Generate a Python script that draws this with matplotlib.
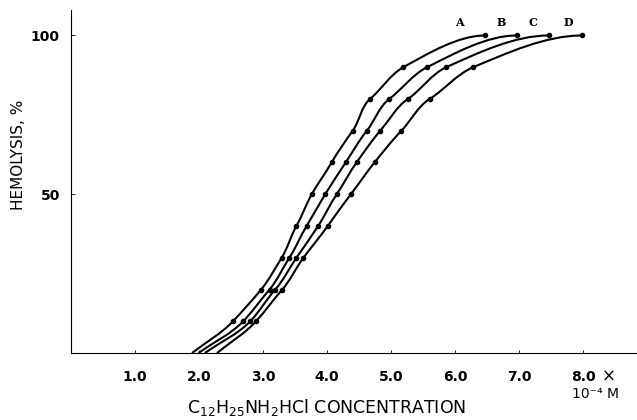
import matplotlib
matplotlib.use("Agg")
import matplotlib.pyplot as plt
from matplotlib.path import Path
from matplotlib.patches import PathPatch
import numpy as np

plt.rcParams["mathtext.default"] = "regular"

# hemolysis (%) vs concentration (x 10^-4 M), curves A-D
hemolysis = [0, 10, 20, 30, 40, 50, 60, 70, 80, 90, 100]
conc_A = [1.89, 2.53, 2.97, 3.29, 3.52, 3.76, 4.07, 4.40, 4.67, 5.19, 6.47]
conc_B = [1.99, 2.69, 3.10, 3.41, 3.68, 3.97, 4.29, 4.62, 4.97, 5.56, 6.96]
conc_C = [2.09, 2.80, 3.19, 3.52, 3.86, 4.15, 4.46, 4.83, 5.26, 5.86, 7.46]
conc_D = [2.28, 2.89, 3.30, 3.63, 4.01, 4.37, 4.74, 5.16, 5.60, 6.28, 7.98]
curve_names = ["A", "B", "C", "D"]
xtick_vals = [1.0, 2.0, 3.0, 4.0, 5.0, 6.0, 7.0, 8.0]
ytick_vals = [50, 100]


def smooth_path(xs, ys, sx=64.0, sy=3.16):
    # bezier through the measured points, chord-length parameterised,
    # tangents from a wide stencil so the line stays smooth, flat at 100 %
    p = np.column_stack([xs, ys]).astype(float)
    n = len(p)
    d = np.hypot(np.diff(p[:, 0]) * sx, np.diff(p[:, 1]) * sy)
    t = np.concatenate([[0], np.cumsum(d)])
    m = np.zeros_like(p)
    m[0] = (p[1] - p[0]) / (t[1] - t[0])
    for i in range(1, n - 1):
        lo, hi = max(i - 2, 0), min(i + 2, n - 1)
        if i == n - 2:
            lo = i - 1
            hi = i + 1
        m[i] = (p[hi] - p[lo]) / (t[hi] - t[lo])
    m[-1] = [(p[-1, 0] - p[-2, 0]) / (t[-1] - t[-2]), 0.0]
    verts = [p[0]]
    codes = [Path.MOVETO]
    for i in range(n - 1):
        h = t[i + 1] - t[i]
        verts += [p[i] + m[i] * h / 3, p[i + 1] - m[i + 1] * h / 3, p[i + 1]]
        codes += [Path.CURVE4] * 3
    return Path(verts, codes)


fig = plt.figure(figsize=(6.37, 4.2), dpi=100)
ax = fig.add_axes([0.1115, 0.1595, 0.8885, 0.8165])

all_curves = [conc_A, conc_B, conc_C, conc_D]
for xs in all_curves:
    ax.add_patch(PathPatch(smooth_path(xs, hemolysis), facecolor="none",
                           edgecolor="black", lw=1.5))
    ax.plot(xs[1:], hemolysis[1:], "o", color="black", ms=3)

label_shift = [0.41, 0.24, 0.24, 0.21]
for name, xs, dx in zip(curve_names, all_curves, label_shift):
    ax.text(xs[-1] - dx, 104, name, fontsize=8, fontweight="bold",
            family="DejaVu Serif", ha="center", va="center")

ax.set_xlim(0, 8.84)
ax.set_ylim(0, 108)
ax.spines["top"].set_visible(False)
ax.spines["right"].set_visible(False)
ax.spines["left"].set_linewidth(0.8)
ax.spines["bottom"].set_linewidth(0.8)

ax.set_xticks(xtick_vals)
ax.set_xticklabels(["%.1f" % v for v in xtick_vals], fontsize=10, fontweight="bold")
ax.set_yticks(ytick_vals)
ax.set_yticklabels([str(v) for v in ytick_vals], fontsize=10, fontweight="bold")
ax.tick_params(axis="x", direction="in", length=2, width=0.6, pad=12)
ax.tick_params(axis="y", direction="in", length=3, width=0.6, pad=8)

# unit under the last tick
ax.text(8.39, -7.4, "\u00d7", fontsize=12, ha="center", va="center", clip_on=False)
ax.text(8.19, -13.0, "10\u207b\u2074 M", fontsize=10, ha="center", va="center",
        clip_on=False)

ax.set_xlabel(r"C$_{12}$H$_{25}$NH$_2$HCl CONCENTRATION", fontsize=12.5, va="center")
ax.xaxis.set_label_coords(0.452, -0.160)
ax.set_ylabel("HEMOLYSIS, %", fontsize=11, va="center")
ax.yaxis.set_label_coords(-0.0936, 0.577)

fig.savefig("out.png", dpi=100)
